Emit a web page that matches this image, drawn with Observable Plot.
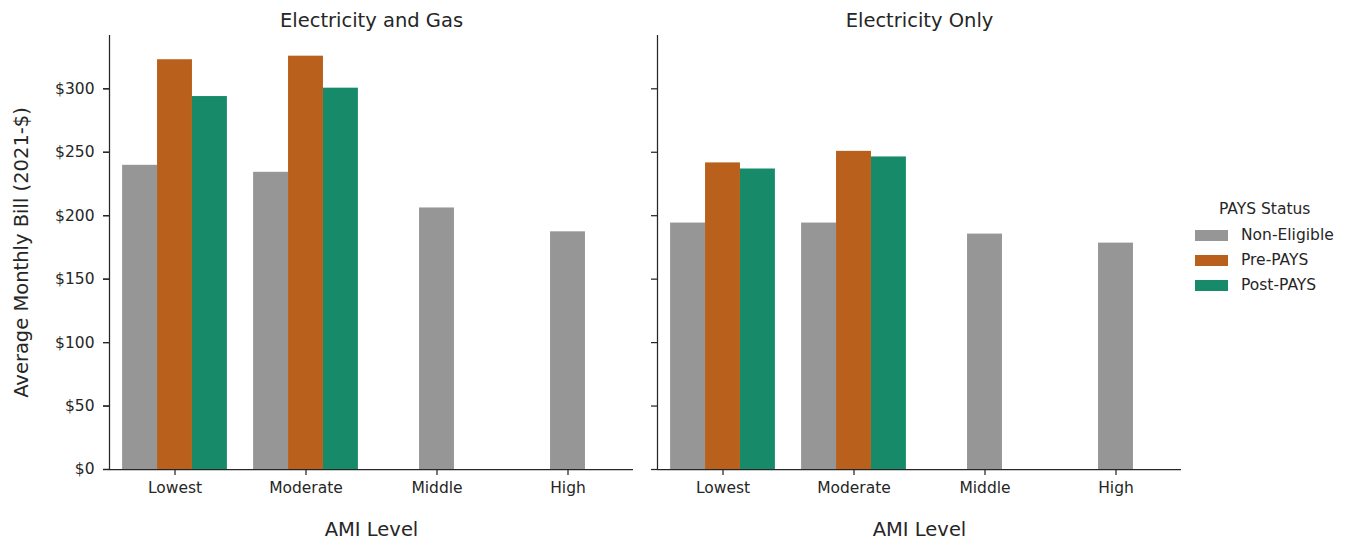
<!DOCTYPE html>
<html>
<head>
<meta charset="utf-8">
<script src="https://cdn.jsdelivr.net/npm/d3@7"></script>
<script src="https://cdn.jsdelivr.net/npm/@observablehq/plot@0.6"></script>
<style>
  html, body { margin: 0; padding: 0; background: #fff; }
  #wrap { position: relative; width: 1354px; height: 540px; font-family: "DejaVu Sans", sans-serif; color: #262626; }
  #legend { position: absolute; left: 1195px; top: 200px; font-size: 15.5px; }
  #legend .title { position: absolute; left: 24px; top: 0; white-space: nowrap; }
  #legend .row { position: absolute; left: 0; height: 20px; display: flex; align-items: center; white-space: nowrap; }
  #legend .sw { width: 33px; height: 11px; margin-right: 13px; }
</style>
</head>
<body>
<div id="wrap"><div id="chart"></div><div id="legend"></div></div>
<script>
// Average monthly bill by AMI level, split by fuel type and PAYS status
const panels = ["Electricity and Gas", "Electricity Only"];
const levels = ["Lowest", "Moderate", "Middle", "High"];
const statuses = ["Non-Eligible", "Pre-PAYS", "Post-PAYS"];
const statusColors = ["#969696", "#B8601C", "#178B69"];

// values per AMI level (null = no bar for that level)
const gasNonEligible = [239.7, 234.2, 206.1, 187.3];
const gasPrePAYS = [322.9, 325.7, null, null];
const gasPostPAYS = [293.9, 300.5, null, null];
const elecNonEligible = [194.2, 194.2, 185.5, 178.4];
const elecPrePAYS = [241.6, 250.7, null, null];
const elecPostPAYS = [236.8, 246.3, null, null];

const yTicks = [0, 50, 100, 150, 200, 250, 300];
const yLabel = "Average Monthly Bill (2021-$)";
const xLabel = "AMI Level";

const series = {
  "Electricity and Gas": [gasNonEligible, gasPrePAYS, gasPostPAYS],
  "Electricity Only": [elecNonEligible, elecPrePAYS, elecPostPAYS]
};

// Long table; bars within a level are dodged side by side (total width 0.8)
const barWidth = 0.8 / statuses.length;
const rows = [];
for (const panel of panels) {
  levels.forEach((level, i) => {
    const present = statuses
      .map((s, k) => ({status: s, value: series[panel][k][i]}))
      .filter(d => d.value != null);
    present.forEach((d, k) => {
      const center = i + (k - (present.length - 1) / 2) * barWidth;
      rows.push({panel, level, status: d.status, value: d.value,
                 x1: center - barWidth / 2, x2: center + barWidth / 2});
    });
  });
}

const ink = "#262626";
const chart = Plot.plot({
  width: 1354,
  height: 540,
  marginLeft: 108,
  marginRight: 173,
  marginTop: 35,
  marginBottom: 71,
  style: {fontFamily: "DejaVu Sans, sans-serif", fontSize: "15.5px", color: ink, background: "transparent"},
  fx: {domain: panels, paddingInner: 0.044, paddingOuter: 0, label: null},
  x: {type: "linear", domain: [-0.5, levels.length - 0.5], label: null},
  y: {domain: [0, 342], label: null},
  color: {domain: statuses, range: statusColors},
  marks: [
    Plot.rect(rows, {fx: "panel", x1: "x1", x2: "x2", y1: () => 0, y2: "value", fill: "status"}),
    Plot.ruleY([0], {stroke: ink, strokeWidth: 1.25}),
    Plot.ruleX([-0.5], {stroke: ink, strokeWidth: 1.25}),
    Plot.axisFx({anchor: "top", tickSize: 0, tickPadding: 9, fontSize: 19.5, label: null}),
    Plot.axisX({ticks: [0, 1, 2, 3], tickFormat: i => levels[i], tickSize: 6, tickPadding: 6,
                stroke: ink, strokeWidth: 1.25, label: null, facetAnchor: null}),
    Plot.axisY({ticks: yTicks, tickFormat: d => "$" + d, tickSize: 6, tickPadding: 9,
                stroke: ink, strokeWidth: 1.25, label: null}),
    Plot.axisY({ticks: yTicks, tickFormat: () => "", tickSize: 6, stroke: ink, strokeWidth: 1.25,
                label: null, facetAnchor: null}),
    // y title, first panel only
    Plot.text([{panel: panels[0]}], {fx: "panel", text: () => yLabel, frameAnchor: "left",
               textAnchor: "middle", lineAnchor: "middle", rotate: -90, dx: -88,
               fontSize: 19.5, fill: ink}),
    // x title under each panel
    Plot.text([xLabel], {frameAnchor: "bottom", dy: 66, fontSize: 19.5, fill: ink})
  ]
});
document.getElementById("chart").appendChild(chart);

// Legend built from the same status/color arrays
const legend = document.getElementById("legend");
const title = document.createElement("div");
title.className = "title";
title.textContent = "PAYS Status";
legend.appendChild(title);
statuses.forEach((s, k) => {
  const row = document.createElement("div");
  row.className = "row";
  row.style.top = (25 + k * 25) + "px";
  const sw = document.createElement("div");
  sw.className = "sw";
  sw.style.background = statusColors[k];
  const label = document.createElement("span");
  label.textContent = s;
  row.appendChild(sw);
  row.appendChild(label);
  legend.appendChild(row);
});
</script>
</body>
</html>
